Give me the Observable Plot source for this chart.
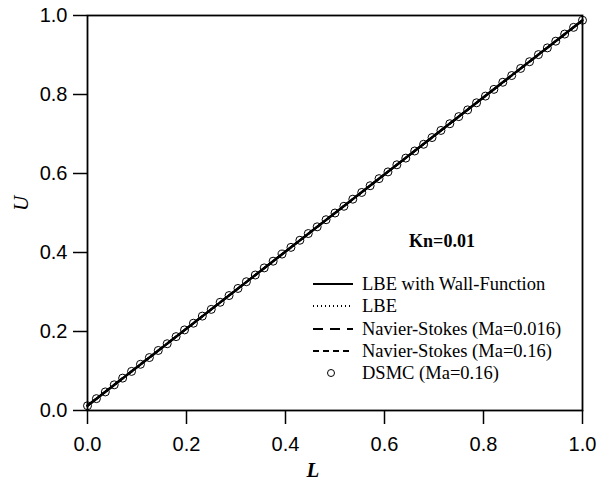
<!DOCTYPE html>
<html><head><meta charset="utf-8">
<script src="https://cdn.jsdelivr.net/npm/d3@7"></script>
<script src="https://cdn.jsdelivr.net/npm/@observablehq/plot@0.6"></script>
<style>
body{margin:0;background:#fff}
#wrap{position:relative;width:597px;height:488px}
#legend{position:absolute;left:0;top:0}
</style></head><body><div id="wrap"></div>
<script>
// ---- data ----
const xTicks = [0, 0.2, 0.4, 0.6, 0.8, 1.0];
const yTicks = [0, 0.2, 0.4, 0.6, 0.8, 1.0];
const seriesNames = ["LBE with Wall-Function", "LBE", "Navier-Stokes (Ma=0.016)", "Navier-Stokes (Ma=0.16)", "DSMC (Ma=0.16)"];
const L_line = [0, 1];
const U_wallFunction = [0.012, 0.988];
const U_lbe = [0.012, 0.988];
const U_ns016 = [0.013, 0.987];
const U_ns16 = [0.012, 0.988];
const L_dsmc = [0.000,0.018,0.036,0.054,0.071,0.089,0.107,0.125,0.143,0.161,0.179,0.196,0.214,0.232,0.250,0.268,0.286,0.304,0.321,0.339,0.357,0.375,0.393,0.411,0.429,0.446,0.464,0.482,0.500,0.518,0.536,0.554,0.571,0.589,0.607,0.625,0.643,0.661,0.679,0.696,0.714,0.732,0.750,0.768,0.786,0.804,0.821,0.839,0.857,0.875,0.893,0.911,0.929,0.946,0.964,0.982,1.000];
const U_dsmc = [0.012,0.030,0.047,0.065,0.082,0.099,0.117,0.134,0.152,0.169,0.187,0.204,0.221,0.239,0.256,0.274,0.291,0.309,0.326,0.343,0.361,0.378,0.396,0.413,0.431,0.448,0.465,0.483,0.500,0.517,0.535,0.552,0.569,0.587,0.604,0.622,0.639,0.657,0.674,0.691,0.709,0.726,0.744,0.761,0.779,0.796,0.813,0.831,0.848,0.866,0.883,0.901,0.918,0.935,0.953,0.970,0.988];

const lineSeries = [
  {name: seriesNames[0], u: U_wallFunction, dash: null, w: 2.5},
  {name: seriesNames[1], u: U_lbe, dash: "1,3", w: 2},
  {name: seriesNames[2], u: U_ns016, dash: "10,7", w: 2},
  {name: seriesNames[3], u: U_ns16, dash: "6,4", w: 2}
];
const lineRows = lineSeries.flatMap(s => L_line.map((l, i) => ({name: s.name, L: l, U: s.u[i]})));
const dotRows = L_dsmc.map((l, i) => ({L: l, U: U_dsmc[i]}));

const serif = "Liberation Serif, Times New Roman, serif";
const marks = [
  Plot.dot(dotRows, {x: "L", y: "U", r: 4, stroke: "#000", strokeWidth: 1, fill: "none"})
];
for (const s of lineSeries) {
  marks.push(Plot.line(lineRows.filter(d => d.name === s.name), {x: "L", y: "U", stroke: "#000", strokeWidth: s.w, strokeDasharray: s.dash}));
}
marks.push(
  Plot.frame({stroke: "#000", strokeWidth: 1.8}),
  Plot.axisX({ticks: xTicks, tickSize: 14, tickPadding: 12, tickFormat: d => d.toFixed(1), label: null, strokeWidth: 1.5}),
  Plot.axisY({ticks: yTicks, tickSize: 14, tickPadding: 6, tickFormat: d => d.toFixed(1), label: null, strokeWidth: 1.5}),
  Plot.text(["L"], {frameAnchor: "bottom", dx: -22, dy: 66, fontFamily: serif, fontStyle: "italic", fontWeight: "bold", fontSize: 21, fill: "#000"}),
  Plot.text(["U"], {frameAnchor: "left", dx: -66, dy: -2, rotate: -90, fontFamily: serif, fontStyle: "italic", fontSize: 21, fill: "#000"})
);

const plot = Plot.plot({
  width: 597, height: 488,
  marginLeft: 87, marginRight: 15, marginTop: 15, marginBottom: 78,
  x: {domain: [0, 1]},
  y: {domain: [0, 1]},
  style: {fontFamily: "Liberation Sans, Arial, sans-serif", fontSize: "20px", color: "#000", background: "#fff"},
  marks
});
const wrap = document.getElementById("wrap");
wrap.appendChild(plot);

// ---- legend overlay ----
const lg = d3.select(wrap).append("svg").attr("id", "legend").attr("width", 597).attr("height", 488);
lg.append("text").attr("x", 442).attr("y", 247).attr("text-anchor", "middle")
  .attr("font-family", serif).attr("font-weight", "bold").attr("font-size", 18).text("Kn=0.01");
const rowY = [284, 306, 329, 351, 373];
seriesNames.forEach((name, i) => {
  const y = rowY[i];
  if (i < 4) {
    lg.append("line").attr("x1", 313).attr("x2", 353).attr("y1", y).attr("y2", y)
      .attr("stroke", "#000").attr("stroke-width", 2).attr("stroke-dasharray", lineSeries[i].dash);
  } else {
    lg.append("circle").attr("cx", 331).attr("cy", y).attr("r", 3.5).attr("fill", "none").attr("stroke", "#000");
  }
  lg.append("text").attr("x", 362).attr("y", y + 6).attr("font-family", serif).attr("font-size", 18.5).text(name);
});
</script></body></html>
